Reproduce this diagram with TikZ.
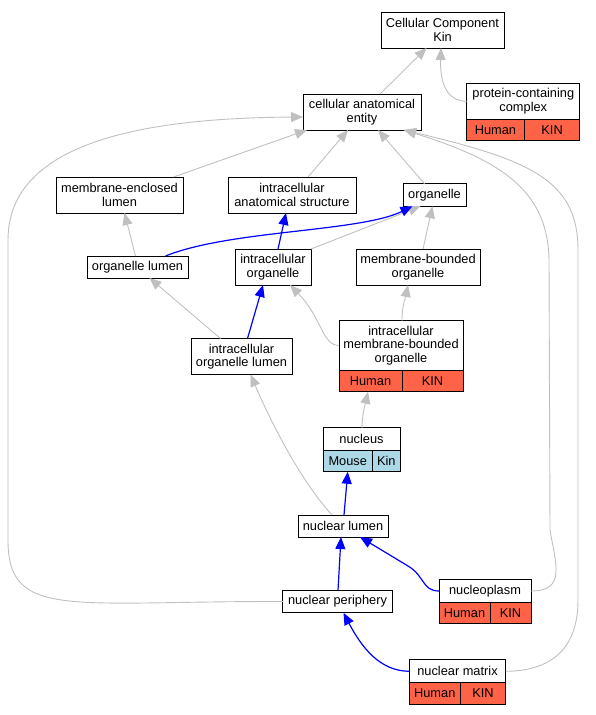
\documentclass[tikz,border=0pt]{standalone}
\usepackage{fontspec}
\setmainfont{Liberation Sans}
\usetikzlibrary{arrows.meta}
\definecolor{human}{HTML}{FF6347}
\definecolor{mouse}{HTML}{ADD8E6}
\definecolor{edgegray}{HTML}{C0C0C0}
\tikzset{
term/.style={draw=black, line width=1pt, fill=white, inner sep=0pt, outer sep=0pt, align=center, font=\fontsize{12.8}{13.5}\selectfont}, % one term box
cell/.style={term, minimum height=21.5pt, anchor=north west}, % species row under a term
isa/.style={-{Triangle[length=12pt, width=10pt]}, draw=edgegray, line width=0.9pt}, % grey edges
partof/.style={-{Triangle[length=12pt, width=10pt]}, draw=blue, line width=1.2pt}, % blue edges
}

\begin{document}
\begin{tikzpicture}[x=1pt, y=-1pt]
\useasboundingbox (0,0) rectangle (595,715);

\node[term, minimum width=123pt, minimum height=36pt] at (442.5,30) (cc) {Cellular Component\\Kin};
\node[term, minimum width=113.3pt, minimum height=36pt] at (523.3,101.3) (pcc) {protein-containing\\complex};
\node[cell, fill=human, minimum width=57.6pt] at (pcc.south west) (pccH) {Human};
\node[cell, fill=human, minimum width=55.7pt] at (pccH.north east) (pccK) {KIN};
\node[term, minimum width=118pt, minimum height=36pt] at (362,112) (cae) {cellular anatomical\\entity};
\node[term, minimum width=127pt, minimum height=36pt] at (119.5,195) (mel) {membrane-enclosed\\lumen};
\node[term, minimum width=128pt, minimum height=36pt] at (292,195) (ias) {intracellular\\anatomical structure};
\node[term, minimum width=63pt, minimum height=22.5pt] at (434.5,195) (org) {organelle};
\node[term, minimum width=101pt, minimum height=22pt] at (137.5,267) (ol) {organelle lumen};
\node[term, minimum width=76pt, minimum height=36pt] at (273,267) (io) {intracellular\\organelle};
\node[term, minimum width=124pt, minimum height=36pt] at (418,267) (mbo) {membrane-bounded\\organelle};
\node[term, minimum width=101pt, minimum height=36pt] at (241.5,356.5) (iol) {intracellular\\organelle lumen};
\node[term, minimum width=124pt, minimum height=49.5pt] at (401,345.5) (imbo) {intracellular\\membrane-bounded\\organelle};
\node[cell, fill=human, minimum width=63pt] at (imbo.south west) (imboH) {Human};
\node[cell, fill=human, minimum width=61pt] at (imboH.north east) (imboK) {KIN};
\node[term, minimum width=77pt, minimum height=22.5pt] at (361.5,439) (nuc) {nucleus};
\node[cell, fill=mouse, minimum width=49.5pt] at (nuc.south west) (nucM) {Mouse};
\node[cell, fill=mouse, minimum width=27.5pt] at (nucM.north east) (nucK) {Kin};
\node[term, minimum width=90pt, minimum height=22pt] at (343,526) (nl) {nuclear lumen};
\node[term, minimum width=109.5pt, minimum height=22.7pt] at (337.5,601.5) (np) {nuclear periphery};
\node[term, minimum width=92pt, minimum height=22.3pt] at (485,591) (npl) {nucleoplasm};
\node[cell, fill=human, minimum width=51pt] at (npl.south west) (nplH) {Human};
\node[cell, fill=human, minimum width=41pt] at (nplH.north east) (nplK) {KIN};
\node[term, minimum width=96.5pt, minimum height=22.7pt] at (457.5,671.3) (nm) {nuclear matrix};
\node[cell, fill=human, minimum width=51pt] at (nm.south west) (nmH) {Human};
\node[cell, fill=human, minimum width=45.5pt] at (nmH.north east) (nmK) {KIN};

% grey edges
\draw[isa] ([xshift=18pt]cae.north) -- ([xshift=-16pt]cc.south);
\draw[isa] (pcc.west) .. controls (445,101) and (440,80) .. ([xshift=-1.5pt]cc.south);
\draw[isa] ([xshift=54pt]mel.north) -- ([xshift=-55pt]cae.south);
\draw[isa] ([xshift=16pt]ias.north) -- ([xshift=-14pt]cae.south);
\draw[isa] ([xshift=-10pt]org.north) -- ([xshift=16pt]cae.south);
\draw[isa] (npl.east) .. controls (566,591) and (556,565) .. (550,530) -- (549,260) .. controls (548,190) and (500,160) .. ([xshift=42pt]cae.south);
\draw[isa] (nm.east) .. controls (550,671) and (578,650) .. (578,600) -- (578,250) .. controls (578,180) and (530,160) .. ([xshift=42pt]cae.south);
\draw[isa] (np.west) .. controls (70,601) and (8,620) .. (8,540) -- (8,240) .. controls (8,140) and (150,118) .. ([yshift=-5pt]cae.west);
\draw[isa] ([xshift=-2pt]ol.north) -- ([xshift=5pt]mel.south);
\draw[isa] (io.north east) -- ([xshift=-14pt]org.south);
\draw[isa] ([xshift=5pt]mbo.north) -- ([xshift=-2pt]org.south);
\draw[isa] ([xshift=-21pt]iol.north) -- ([xshift=12pt]ol.south);
\draw[isa] (imbo.west) .. controls (322,345) and (322,318) .. ([xshift=17pt]io.south);
\draw[isa] ([xshift=1pt]imbo.north) .. controls (402,305) and (405,300) .. ([xshift=-10pt]mbo.south);
\draw[isa] ([xshift=0.5pt]nuc.north) .. controls (362,415) and (365,405) .. ([xshift=-2.5pt]imboH.south);
\draw[isa] ([xshift=-11pt]nl.north) .. controls (300,480) and (270,420) .. ([xshift=9pt]iol.south);

% blue edges
\draw[partof] ([xshift=28pt]ol.north) .. controls (230,230) and (360,232) .. ([xshift=-22pt]org.south);
\draw[partof] ([xshift=5pt]io.north) -- ([xshift=-6pt]ias.south);
\draw[partof] ([xshift=6pt]iol.north) -- ([xshift=-10pt]io.south);
\draw[partof] ([xshift=1pt]nl.north) -- (nucM.south);
\draw[partof] ([xshift=0.5pt]np.north) -- ([xshift=-2pt]nl.south);
\draw[partof] (npl.west) .. controls (422,591) and (425,576) .. (408,566) -- ([xshift=17pt]nl.south);
\draw[partof] (nm.west) .. controls (380,671) and (362,648) .. ([xshift=6pt]np.south);

\end{tikzpicture}
\end{document}
